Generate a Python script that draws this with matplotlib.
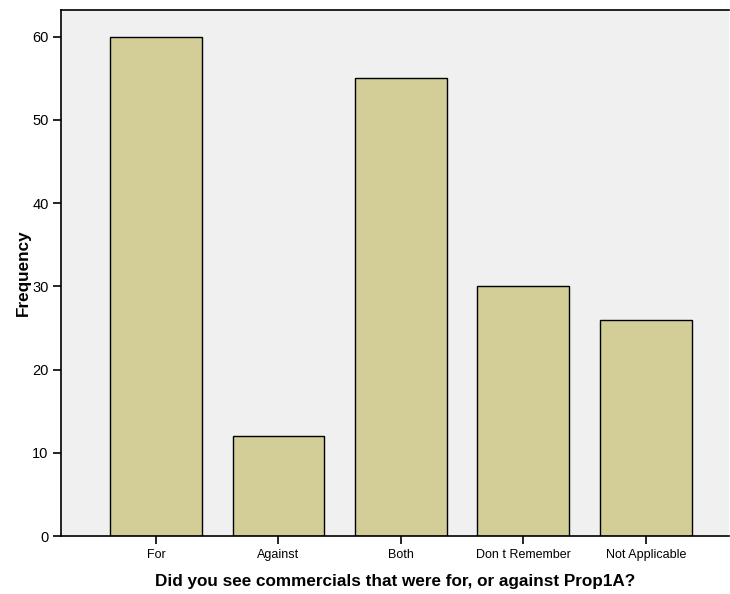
import matplotlib
matplotlib.use("Agg")
import matplotlib.pyplot as plt

plt.rcParams['font.family'] = ['Liberation Sans', 'DejaVu Sans']

categories = ["For", "Against", "Both", "Don t Remember", "Not Applicable"]
frequency = [60, 12, 55, 30, 26]
y_ticks = [0, 10, 20, 30, 40, 50, 60]

fig = plt.figure(figsize=(7.30, 5.94), dpi=100)
ax = fig.add_axes([0.0836, 0.0976, 0.915, 0.8855])
ax.set_facecolor("#f0f0f0")

x = list(range(len(categories)))
ax.bar(x, frequency, width=0.75, color="#d3ce98", edgecolor="black", linewidth=1.0, zorder=2)

ax.set_xlim(-0.776, 4.68)
ax.set_ylim(0, 63.2)
ax.set_xticks(x)
ax.set_xticklabels(categories, fontsize=9)
ax.set_yticks(y_ticks)
ax.set_yticklabels([str(v) for v in y_ticks], fontsize=10.5)
ax.tick_params(axis='both', direction='out', length=6, width=1.2, colors='black', pad=3)

for side in ["left", "bottom", "top"]:
    ax.spines[side].set_linewidth(1.2)
ax.spines["right"].set_visible(False)

ax.set_xlabel("Did you see commercials that were for, or against Prop1A?", fontsize=12.3, fontweight='bold', labelpad=10)
ax.set_ylabel("Frequency", fontsize=12.3, fontweight='bold', labelpad=1)

fig.savefig("out.png", dpi=100, facecolor="white")
